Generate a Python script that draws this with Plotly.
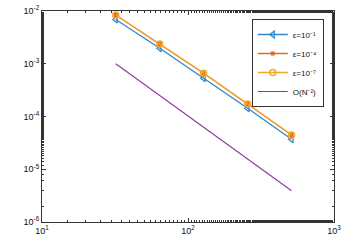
import plotly.graph_objects as go

N = [32, 64, 128, 256, 512]
err_e1 = [6.9e-3, 1.96e-3, 5.3e-4, 1.43e-4, 3.7e-5]
err_e4 = [8.4e-3, 2.37e-3, 6.6e-4, 1.73e-4, 4.45e-5]
err_e7 = [8.4e-3, 2.37e-3, 6.6e-4, 1.73e-4, 4.45e-5]
ref_N2 = [1.0e-3, 2.5e-4, 6.25e-5, 1.5625e-5, 3.9e-6]

x_ticks = [10, 100, 1000]
x_labels = ["10<sup>1</sup>", "10<sup>2</sup>", "10<sup>3</sup>"]
y_ticks = [1e-6, 1e-5, 1e-4, 1e-3, 1e-2]
y_labels = ["10<sup>-6</sup>", "10<sup>-5</sup>", "10<sup>-4</sup>", "10<sup>-3</sup>", "10<sup>-2</sup>"]

fig = go.Figure()
fig.add_trace(go.Scatter(x=N, y=err_e1, name="ε=10⁻¹", mode="lines+markers",
                         line=dict(color="#2f86c8", width=1.3),
                         marker=dict(symbol="triangle-left-open", size=6, color="#2f86c8", line=dict(width=1.2))))
fig.add_trace(go.Scatter(x=N, y=err_e4, name="ε=10⁻⁴", mode="lines+markers",
                         line=dict(color="#e2682f", width=1.3),
                         marker=dict(symbol="square", size=4, color="#e2682f")))
fig.add_trace(go.Scatter(x=N, y=err_e7, name="ε=10⁻⁷", mode="lines+markers",
                         line=dict(color="#f0a928", width=1.3),
                         marker=dict(symbol="circle-open", size=6, color="#f0a928", line=dict(width=1.5))))
fig.add_trace(go.Scatter(x=N, y=ref_N2, name="O(N⁻²)", mode="lines",
                         line=dict(color="#8a3a9a", width=1.1)))

axis_common = dict(showline=True, linecolor="#333", linewidth=1, mirror="ticks",
                   ticks="inside", ticklen=4, tickcolor="#333", showgrid=False, zeroline=False,
                   minor=dict(ticks="inside", ticklen=2, tickcolor="#333", showgrid=False),
                   tickfont=dict(family="Liberation Sans, Arial", size=9, color="#111"))

fig.update_xaxes(type="log", range=[1, 3], tickvals=x_ticks, ticktext=x_labels, **axis_common)
fig.update_yaxes(type="log", range=[-6, -2], tickvals=y_ticks, ticktext=y_labels, **axis_common)

fig.update_layout(
    width=355, height=248,
    margin=dict(l=42, r=21, t=11, b=26, autoexpand=False),
    plot_bgcolor="white", paper_bgcolor="white",
    showlegend=True,
    legend=dict(x=0.965, y=0.962, xanchor="right", yanchor="top",
                bgcolor="white", bordercolor="#333", borderwidth=1,
                font=dict(family="Liberation Sans, Arial", size=8, color="#111"),
                tracegroupgap=0, itemwidth=30),
)

fig.write_html("out.html", config={"displayModeBar": False},
               post_script="document.body.style.margin='0';")
